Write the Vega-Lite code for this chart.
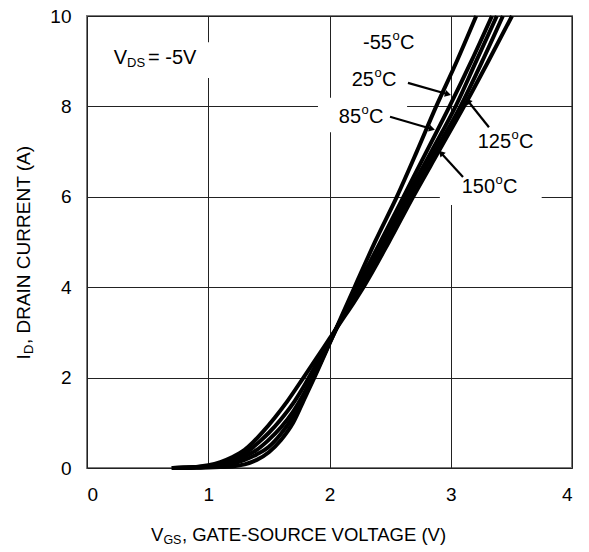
{
  "$schema": "https://vega.github.io/schema/vega-lite/v6.json",
  "width": 485,
  "height": 452,
  "autosize": {"type": "none"},
  "padding": {"left": 87, "top": 16, "right": 17, "bottom": 84},
  "background": "white",
  "config": {
    "view": {"stroke": "#7a7a7a", "strokeWidth": 2},
    "axis": {"grid": true, "gridColor": "#222222", "gridWidth": 1, "domain": false, "ticks": false, "labelFont": "Liberation Sans", "labelFontSize": 19, "labelColor": "#000000", "title": null, "format": "d"},
    "text": {"font": "Liberation Sans", "color": "#000000"}
  },
  "datasets": {
    "curves": [
      {"temp": "-55", "vgs": 0.7, "id": 0}, {"temp": "-55", "vgs": 0.9, "id": 0.005}, {"temp": "-55", "vgs": 1.0, "id": 0.01}, {"temp": "-55", "vgs": 1.1, "id": 0.02}, {"temp": "-55", "vgs": 1.2, "id": 0.035}, {"temp": "-55", "vgs": 1.3, "id": 0.08}, {"temp": "-55", "vgs": 1.4, "id": 0.18}, {"temp": "-55", "vgs": 1.5, "id": 0.35}, {"temp": "-55", "vgs": 1.6, "id": 0.62}, {"temp": "-55", "vgs": 1.7, "id": 1.0}, {"temp": "-55", "vgs": 1.8, "id": 1.57}, {"temp": "-55", "vgs": 1.875, "id": 2.0}, {"temp": "-55", "vgs": 2.0, "id": 2.75}, {"temp": "-55", "vgs": 2.1, "id": 3.36}, {"temp": "-55", "vgs": 2.21, "id": 4.02}, {"temp": "-55", "vgs": 2.38, "id": 5.03}, {"temp": "-55", "vgs": 2.555, "id": 6.0}, {"temp": "-55", "vgs": 2.72, "id": 7.0}, {"temp": "-55", "vgs": 2.88, "id": 8.0}, {"temp": "-55", "vgs": 3.05, "id": 9.0}, {"temp": "-55", "vgs": 3.21, "id": 10.0},
      {"temp": "25", "vgs": 0.7, "id": 0}, {"temp": "25", "vgs": 0.9, "id": 0.01}, {"temp": "25", "vgs": 1.0, "id": 0.025}, {"temp": "25", "vgs": 1.1, "id": 0.05}, {"temp": "25", "vgs": 1.2, "id": 0.1}, {"temp": "25", "vgs": 1.3, "id": 0.18}, {"temp": "25", "vgs": 1.4, "id": 0.3}, {"temp": "25", "vgs": 1.5, "id": 0.47}, {"temp": "25", "vgs": 1.55, "id": 0.6}, {"temp": "25", "vgs": 1.6, "id": 0.76}, {"temp": "25", "vgs": 1.7, "id": 1.13}, {"temp": "25", "vgs": 1.8, "id": 1.62}, {"temp": "25", "vgs": 1.9, "id": 2.18}, {"temp": "25", "vgs": 2.0, "id": 2.76}, {"temp": "25", "vgs": 2.1, "id": 3.32}, {"temp": "25", "vgs": 2.23, "id": 4.02}, {"temp": "25", "vgs": 2.42, "id": 5.0}, {"temp": "25", "vgs": 2.61, "id": 6.0}, {"temp": "25", "vgs": 2.8, "id": 7.0}, {"temp": "25", "vgs": 2.99, "id": 8.0}, {"temp": "25", "vgs": 3.17, "id": 9.0}, {"temp": "25", "vgs": 3.34, "id": 10.0},
      {"temp": "85", "vgs": 0.7, "id": 0}, {"temp": "85", "vgs": 0.9, "id": 0.015}, {"temp": "85", "vgs": 1.0, "id": 0.035}, {"temp": "85", "vgs": 1.1, "id": 0.075}, {"temp": "85", "vgs": 1.2, "id": 0.14}, {"temp": "85", "vgs": 1.3, "id": 0.25}, {"temp": "85", "vgs": 1.4, "id": 0.4}, {"temp": "85", "vgs": 1.49, "id": 0.6}, {"temp": "85", "vgs": 1.6, "id": 0.9}, {"temp": "85", "vgs": 1.7, "id": 1.25}, {"temp": "85", "vgs": 1.8, "id": 1.7}, {"temp": "85", "vgs": 1.9, "id": 2.23}, {"temp": "85", "vgs": 2.0, "id": 2.78}, {"temp": "85", "vgs": 2.1, "id": 3.32}, {"temp": "85", "vgs": 2.245, "id": 4.03}, {"temp": "85", "vgs": 2.44, "id": 5.0}, {"temp": "85", "vgs": 2.635, "id": 6.0}, {"temp": "85", "vgs": 2.84, "id": 7.0}, {"temp": "85", "vgs": 3.04, "id": 8.0}, {"temp": "85", "vgs": 3.21, "id": 9.0}, {"temp": "85", "vgs": 3.38, "id": 10.0},
      {"temp": "125", "vgs": 0.7, "id": 0}, {"temp": "125", "vgs": 0.9, "id": 0.02}, {"temp": "125", "vgs": 1.0, "id": 0.045}, {"temp": "125", "vgs": 1.1, "id": 0.1}, {"temp": "125", "vgs": 1.2, "id": 0.19}, {"temp": "125", "vgs": 1.3, "id": 0.32}, {"temp": "125", "vgs": 1.43, "id": 0.6}, {"temp": "125", "vgs": 1.5, "id": 0.78}, {"temp": "125", "vgs": 1.6, "id": 1.08}, {"temp": "125", "vgs": 1.7, "id": 1.43}, {"temp": "125", "vgs": 1.8, "id": 1.86}, {"temp": "125", "vgs": 1.9, "id": 2.34}, {"temp": "125", "vgs": 2.0, "id": 2.82}, {"temp": "125", "vgs": 2.1, "id": 3.3}, {"temp": "125", "vgs": 2.26, "id": 4.03}, {"temp": "125", "vgs": 2.46, "id": 5.0}, {"temp": "125", "vgs": 2.66, "id": 6.0}, {"temp": "125", "vgs": 2.87, "id": 7.0}, {"temp": "125", "vgs": 3.08, "id": 8.0}, {"temp": "125", "vgs": 3.26, "id": 9.0}, {"temp": "125", "vgs": 3.43, "id": 10.0},
      {"temp": "150", "vgs": 0.7, "id": 0}, {"temp": "150", "vgs": 0.8, "id": 0.01}, {"temp": "150", "vgs": 0.9, "id": 0.025}, {"temp": "150", "vgs": 1.0, "id": 0.06}, {"temp": "150", "vgs": 1.1, "id": 0.13}, {"temp": "150", "vgs": 1.2, "id": 0.24}, {"temp": "150", "vgs": 1.3, "id": 0.4}, {"temp": "150", "vgs": 1.37, "id": 0.57}, {"temp": "150", "vgs": 1.45, "id": 0.8}, {"temp": "150", "vgs": 1.55, "id": 1.12}, {"temp": "150", "vgs": 1.65, "id": 1.47}, {"temp": "150", "vgs": 1.78, "id": 1.98}, {"temp": "150", "vgs": 1.9, "id": 2.46}, {"temp": "150", "vgs": 2.0, "id": 2.86}, {"temp": "150", "vgs": 2.1, "id": 3.26}, {"temp": "150", "vgs": 2.2, "id": 3.66}, {"temp": "150", "vgs": 2.28, "id": 4.0}, {"temp": "150", "vgs": 2.49, "id": 5.0}, {"temp": "150", "vgs": 2.69, "id": 6.0}, {"temp": "150", "vgs": 2.9, "id": 7.0}, {"temp": "150", "vgs": 3.11, "id": 8.0}, {"temp": "150", "vgs": 3.31, "id": 9.0}, {"temp": "150", "vgs": 3.505, "id": 10.0}
    ],
    "boxes": [
      {"x": 0.15, "x2": 1.1, "y": 9.42, "y2": 8.63},
      {"x": 1.905, "x2": 2.64, "y": 8.19, "y2": 7.43},
      {"x": 2.91, "x2": 3.75, "y": 7.88, "y2": 5.82}
    ],
    "arrows": [
      {"label": "25", "dir": "right", "x": 2.647, "y": 8.52, "x2": 2.977, "y2": 8.27},
      {"label": "85", "dir": "right", "x": 2.499, "y": 7.77, "x2": 2.845, "y2": 7.5},
      {"label": "125", "dir": "upleft", "x": 3.315, "y": 7.54, "x2": 3.142, "y2": 8.12},
      {"label": "150", "dir": "upleft", "x": 3.101, "y": 6.44, "x2": 2.92, "y2": 6.97}
    ],
    "temps": [
      {"num": "-55", "x": 2.515, "y": 9.4},
      {"num": "25", "x": 2.367, "y": 8.58},
      {"num": "85", "x": 2.26, "y": 7.77},
      {"num": "125", "x": 3.497, "y": 7.21},
      {"num": "150", "x": 3.365, "y": 6.22}
    ],
    "vds": [{"main": "V", "sub": "DS", "rest": "= -5V", "x": 0.33, "y": 9.07}],
    "xtitle": [{"main": "V", "sub": "GS", "rest": ", GATE-SOURCE VOLTAGE (V)", "x": 0.63, "y": -1.48}],
    "ytitle": [{"main": "I", "sub": "D", "rest": ", DRAIN CURRENT (A)", "x": -0.52, "y": 2.52}]
  },
  "layer": [
    {
      "data": {"name": "boxes"},
      "mark": {"type": "rect", "fill": "white", "stroke": null},
      "encoding": {
        "x": {"field": "x", "type": "quantitative", "scale": {"domain": [0, 4]}},
        "x2": {"field": "x2"},
        "y": {"field": "y", "type": "quantitative", "scale": {"domain": [0, 10]}},
        "y2": {"field": "y2"}
      }
    },
    {
      "data": {"name": "curves"},
      "mark": {"type": "line", "color": "#000000", "strokeWidth": 4, "interpolate": "monotone"},
      "encoding": {
        "x": {"field": "vgs", "type": "quantitative", "scale": {"domain": [0, 4]}, "axis": {"values": [0, 1, 2, 3, 4], "labelPadding": 17}},
        "y": {"field": "id", "type": "quantitative", "scale": {"domain": [0, 10]}, "axis": {"values": [0, 2, 4, 6, 8, 10], "labelPadding": 16}},
        "detail": {"field": "temp"}
      }
    },
    {
      "data": {"name": "arrows"},
      "mark": {"type": "rule", "color": "#000000", "strokeWidth": 2.2},
      "encoding": {
        "x": {"field": "x", "type": "quantitative", "scale": {"domain": [0, 4]}},
        "y": {"field": "y", "type": "quantitative", "scale": {"domain": [0, 10]}},
        "x2": {"field": "x2"},
        "y2": {"field": "y2"}
      }
    },
    {
      "data": {"name": "arrows"},
      "transform": [{"filter": "datum.dir == 'right'"}],
      "mark": {"type": "point", "shape": "triangle-up", "filled": true, "color": "#000000", "size": 50, "angle": 106, "opacity": 1},
      "encoding": {
        "x": {"field": "x2", "type": "quantitative", "scale": {"domain": [0, 4]}},
        "y": {"field": "y2", "type": "quantitative", "scale": {"domain": [0, 10]}}
      }
    },
    {
      "data": {"name": "arrows"},
      "transform": [{"filter": "datum.dir == 'upleft'"}],
      "mark": {"type": "point", "shape": "triangle-up", "filled": true, "color": "#000000", "size": 50, "angle": 318, "opacity": 1},
      "encoding": {
        "x": {"field": "x2", "type": "quantitative", "scale": {"domain": [0, 4]}},
        "y": {"field": "y2", "type": "quantitative", "scale": {"domain": [0, 10]}}
      }
    },
    {
      "data": {"name": "temps"},
      "mark": {"type": "text", "align": "right", "baseline": "middle", "fontSize": 20},
      "encoding": {
        "x": {"field": "x", "type": "quantitative", "scale": {"domain": [0, 4]}},
        "y": {"field": "y", "type": "quantitative", "scale": {"domain": [0, 10]}},
        "text": {"field": "num"}
      }
    },
    {
      "data": {"name": "temps"},
      "mark": {"type": "text", "align": "left", "baseline": "middle", "fontSize": 13, "dx": 0.5, "dy": -7},
      "encoding": {
        "x": {"field": "x", "type": "quantitative", "scale": {"domain": [0, 4]}},
        "y": {"field": "y", "type": "quantitative", "scale": {"domain": [0, 10]}},
        "text": {"value": "o"}
      }
    },
    {
      "data": {"name": "temps"},
      "mark": {"type": "text", "align": "left", "baseline": "middle", "fontSize": 20, "dx": 8},
      "encoding": {
        "x": {"field": "x", "type": "quantitative", "scale": {"domain": [0, 4]}},
        "y": {"field": "y", "type": "quantitative", "scale": {"domain": [0, 10]}},
        "text": {"value": "C"}
      }
    },
    {
      "data": {"name": "vds"},
      "mark": {"type": "text", "align": "right", "baseline": "middle", "fontSize": 20},
      "encoding": {
        "x": {"field": "x", "type": "quantitative", "scale": {"domain": [0, 4]}},
        "y": {"field": "y", "type": "quantitative", "scale": {"domain": [0, 10]}},
        "text": {"field": "main"}
      }
    },
    {
      "data": {"name": "vds"},
      "mark": {"type": "text", "align": "left", "baseline": "middle", "fontSize": 13, "dx": 0, "dy": 5},
      "encoding": {
        "x": {"field": "x", "type": "quantitative", "scale": {"domain": [0, 4]}},
        "y": {"field": "y", "type": "quantitative", "scale": {"domain": [0, 10]}},
        "text": {"field": "sub"}
      }
    },
    {
      "data": {"name": "vds"},
      "mark": {"type": "text", "align": "left", "baseline": "middle", "fontSize": 20, "dx": 21},
      "encoding": {
        "x": {"field": "x", "type": "quantitative", "scale": {"domain": [0, 4]}},
        "y": {"field": "y", "type": "quantitative", "scale": {"domain": [0, 10]}},
        "text": {"field": "rest"}
      }
    },
    {
      "data": {"name": "xtitle"},
      "mark": {"type": "text", "align": "right", "baseline": "middle", "fontSize": 18.5},
      "encoding": {
        "x": {"field": "x", "type": "quantitative", "scale": {"domain": [0, 4]}},
        "y": {"field": "y", "type": "quantitative", "scale": {"domain": [0, 10]}},
        "text": {"field": "main"}
      }
    },
    {
      "data": {"name": "xtitle"},
      "mark": {"type": "text", "align": "left", "baseline": "middle", "fontSize": 12.5, "dy": 5},
      "encoding": {
        "x": {"field": "x", "type": "quantitative", "scale": {"domain": [0, 4]}},
        "y": {"field": "y", "type": "quantitative", "scale": {"domain": [0, 10]}},
        "text": {"field": "sub"}
      }
    },
    {
      "data": {"name": "xtitle"},
      "mark": {"type": "text", "align": "left", "baseline": "middle", "fontSize": 18.5, "dx": 18.5},
      "encoding": {
        "x": {"field": "x", "type": "quantitative", "scale": {"domain": [0, 4]}},
        "y": {"field": "y", "type": "quantitative", "scale": {"domain": [0, 10]}},
        "text": {"field": "rest"}
      }
    },
    {
      "data": {"name": "ytitle"},
      "mark": {"type": "text", "align": "right", "baseline": "middle", "fontSize": 19, "angle": 270},
      "encoding": {
        "x": {"field": "x", "type": "quantitative", "scale": {"domain": [0, 4]}},
        "y": {"field": "y", "type": "quantitative", "scale": {"domain": [0, 10]}},
        "text": {"field": "main"}
      }
    },
    {
      "data": {"name": "ytitle"},
      "mark": {"type": "text", "align": "left", "baseline": "middle", "fontSize": 13, "angle": 270, "dy": 5},
      "encoding": {
        "x": {"field": "x", "type": "quantitative", "scale": {"domain": [0, 4]}},
        "y": {"field": "y", "type": "quantitative", "scale": {"domain": [0, 10]}},
        "text": {"field": "sub"}
      }
    },
    {
      "data": {"name": "ytitle"},
      "mark": {"type": "text", "align": "left", "baseline": "middle", "fontSize": 19, "angle": 270, "dx": 10},
      "encoding": {
        "x": {"field": "x", "type": "quantitative", "scale": {"domain": [0, 4]}},
        "y": {"field": "y", "type": "quantitative", "scale": {"domain": [0, 10]}},
        "text": {"field": "rest"}
      }
    }
  ]
}
